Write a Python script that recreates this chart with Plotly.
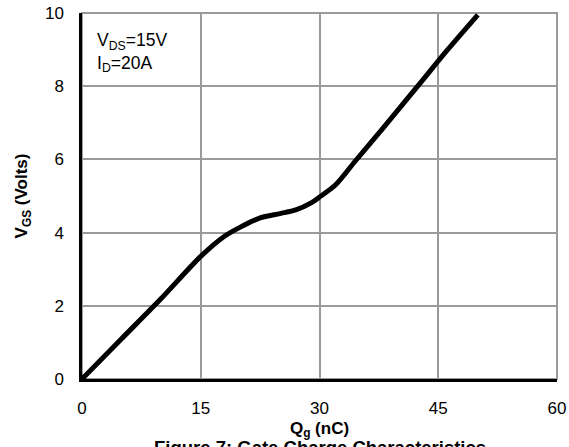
import plotly.graph_objects as go

qg = [0, 5, 10, 15, 18, 20, 22.5, 25, 27, 29, 30, 32, 34.5, 38, 42.4, 46, 50]
vgs = [0, 1.1, 2.2, 3.35, 3.9, 4.15, 4.4, 4.52, 4.62, 4.82, 4.97, 5.3, 5.95, 6.85, 8.0, 8.95, 9.95]

x_ticks = [0, 15, 30, 45, 60]
y_ticks = [0, 2, 4, 6, 8, 10]

FONT = "Liberation Sans, Arial, sans-serif"

fig = go.Figure()
fig.add_trace(go.Scatter(x=qg, y=vgs, mode="lines",
                         line=dict(color="black", width=5, shape="spline", smoothing=0.8),
                         showlegend=False, hoverinfo="skip"))

fig.update_layout(
    width=569, height=447,
    margin=dict(l=82, r=12, t=13, b=68, autoexpand=False),
    plot_bgcolor="white", paper_bgcolor="white",
    font=dict(family=FONT, size=17, color="black"),
    xaxis=dict(range=[0, 60], tickvals=x_ticks, showgrid=True, gridcolor="#9a9a9a", gridwidth=1.5,
               zeroline=False, showline=True, linecolor="black", linewidth=2.5, automargin=False,
               ticks="", ticklabelstandoff=12, tickfont=dict(size=17),
               title=dict(text="<b>Q<sub>g</sub> (nC)</b>", font=dict(size=17), standoff=5)),
    yaxis=dict(range=[0, 10], tickvals=y_ticks, showgrid=True, gridcolor="#9a9a9a", gridwidth=1.5,
               zeroline=False, showline=True, linecolor="black", linewidth=2.5, automargin=False,
               ticks="", ticklabelstandoff=12, tickfont=dict(size=17),
               title=dict(text="<b>V<sub>GS</sub> (Volts)</b>", font=dict(size=17), standoff=13)),
    shapes=[dict(type="rect", xref="paper", yref="paper", x0=0, y0=0, x1=1, y1=1,
                 line=dict(color="#9a9a9a", width=2), layer="below")],
    annotations=[
        dict(text="V<sub>DS</sub>=15V<br>I<sub>D</sub>=20A", xref="x", yref="y", x=1.6, y=9.58,
             xanchor="left", yanchor="top", showarrow=False, align="left",
             font=dict(size=17.5)),
        dict(text="<b>Figure 7: Gate Charge Characteristics</b>", xref="paper", yref="paper",
             x=0.5, y=-0.152, xanchor="center", yanchor="top", showarrow=False,
             font=dict(size=18.5)),
    ],
)

fig.write_html("out.html", config={"displayModeBar": False},
               post_script="document.body.style.margin='0';document.body.style.overflow='hidden';")
